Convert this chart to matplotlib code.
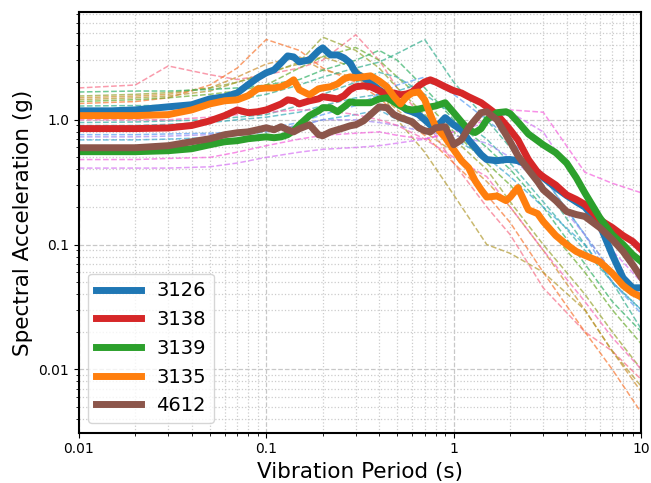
import matplotlib
matplotlib.use("Agg")
import matplotlib.pyplot as plt
import seaborn as sns
from matplotlib.ticker import FixedLocator, FixedFormatter, NullFormatter

# periods for the highlighted records
periods = [0.01, 0.015, 0.02, 0.03, 0.04, 0.05, 0.06, 0.07, 0.08, 0.09,
           0.1, 0.11, 0.12, 0.13, 0.14, 0.15, 0.17, 0.19, 0.2, 0.22,
           0.24, 0.26, 0.28, 0.3, 0.33, 0.36, 0.4, 0.44, 0.48, 0.52,
           0.56, 0.6, 0.65, 0.7, 0.75, 0.8, 0.9, 1.0, 1.1, 1.2,
           1.3, 1.4, 1.5, 1.7, 1.9, 2.0, 2.2, 2.5, 2.8, 3.0,
           3.5, 4.0, 4.5, 5.0, 6.0, 7.0, 8.0, 9.0, 10.0]

sa_3126 = [1.18, 1.18, 1.2, 1.27, 1.32, 1.47, 1.53, 1.64, 1.91, 2.17,
           2.38, 2.51, 2.86, 3.25, 3.19, 2.91, 3.02, 3.57, 3.77, 3.31,
           3.31, 3.13, 2.86, 2.38, 2.17, 1.98, 1.74, 1.585, 1.445, 1.32,
           1.2, 1.16, 1.1, 1.0, 0.91, 0.86, 1.04, 0.91, 0.83, 0.69,
           0.6, 0.525, 0.48, 0.47, 0.48, 0.48, 0.47, 0.43, 0.38, 0.344,
           0.286, 0.247, 0.22, 0.2, 0.145, 0.083, 0.054, 0.045, 0.045]

sa_3138 = [0.85, 0.85, 0.85, 0.86, 0.9, 0.98, 1.08, 1.2, 1.14, 1.16,
           1.2, 1.27, 1.34, 1.445, 1.42, 1.34, 1.42, 1.47, 1.53, 1.5,
           1.47, 1.56, 1.74, 1.84, 1.87, 1.84, 1.71, 1.585, 1.64, 1.585,
           1.61, 1.67, 1.87, 2.01, 2.09, 2.01, 1.84, 1.71, 1.64, 1.53,
           1.445, 1.37, 1.27, 1.1, 0.91, 0.83, 0.69, 0.48, 0.38, 0.35,
           0.3, 0.25, 0.23, 0.21, 0.158, 0.137, 0.118, 0.106, 0.091]

sa_3139 = [0.555, 0.555, 0.555, 0.565, 0.586, 0.631, 0.667, 0.68, 0.705, 0.718,
           0.73, 0.718, 0.73, 0.759, 0.817, 0.91, 1.08, 1.18, 1.25, 1.25,
           1.16, 1.27, 1.39, 1.37, 1.37, 1.37, 1.47, 1.5, 1.39, 1.29,
           1.22, 1.2, 1.22, 1.25, 1.27, 1.29, 1.37, 1.14, 0.96, 0.83,
           0.79, 0.85, 1.0, 1.14, 1.16, 1.12, 0.96, 0.77, 0.68, 0.63,
           0.545, 0.45, 0.344, 0.26, 0.165, 0.12, 0.1, 0.083, 0.073]

sa_3135 = [1.08, 1.08, 1.08, 1.1, 1.2, 1.34, 1.42, 1.445, 1.56, 1.77,
           1.8, 1.8, 1.84, 1.94, 2.09, 1.74, 1.585, 1.77, 1.8, 1.84,
           1.94, 2.13, 2.21, 2.17, 2.21, 2.25, 2.05, 1.84, 1.53, 1.34,
           1.53, 1.64, 1.67, 1.445, 1.1, 0.88, 0.72, 0.575, 0.47, 0.413,
           0.325, 0.275, 0.24, 0.245, 0.225, 0.24, 0.286, 0.19, 0.177, 0.153,
           0.118, 0.1, 0.088, 0.082, 0.073, 0.059, 0.047, 0.041, 0.038]

sa_4612 = [0.597, 0.597, 0.597, 0.62, 0.667, 0.705, 0.759, 0.787, 0.8, 0.832,
           0.863, 0.832, 0.88, 0.832, 0.8, 0.847, 0.912, 0.759, 0.745, 0.8,
           0.832, 0.863, 0.895, 0.912, 0.98, 1.1, 1.27, 1.25, 1.1, 1.04,
           1.0, 0.964, 0.863, 0.817, 0.8, 0.863, 0.88, 0.631, 0.692, 0.863,
           1.0, 1.14, 1.16, 1.0, 0.759, 0.667, 0.515, 0.398, 0.32, 0.275,
           0.225, 0.184, 0.174, 0.168, 0.137, 0.11, 0.088, 0.069, 0.0545]

# background records (thin dashed)
bg_periods = [0.01, 0.02, 0.03, 0.05, 0.07, 0.1, 0.15, 0.2, 0.3, 0.4,
              0.5, 0.7, 1.0, 1.5, 2.0, 3.0, 5.0, 7.0, 10.0]
bg_records = [
    [1.80, 1.9, 2.7, 2.3, 2.1, 2.3, 2.6, 3.0, 4.8, 3.0, 1.8, 1.0, 0.45, 0.2, 0.12, 0.045, 0.02, 0.014, 0.0083],
    [1.35, 1.4, 1.5, 1.9, 2.6, 4.4, 3.6, 2.6, 2.0, 1.5, 1.1, 0.75, 0.45, 0.25, 0.15, 0.06, 0.02, 0.01, 0.0045],
    [1.5, 1.55, 1.6, 1.8, 2.2, 2.8, 3.2, 2.5, 2.2, 1.6, 1.2, 0.8, 0.55, 0.32, 0.2, 0.09, 0.03, 0.014, 0.0066],
    [1.45, 1.5, 1.55, 1.7, 2.0, 2.4, 2.8, 3.2, 2.6, 1.8, 1.0, 0.55, 0.25, 0.1, 0.085, 0.06, 0.03, 0.014, 0.0073],
    [1.55, 1.6, 1.65, 1.8, 2.0, 2.3, 2.9, 4.6, 3.6, 2.6, 1.8, 1.1, 0.7, 0.4, 0.22, 0.1, 0.04, 0.02, 0.01],
    [1.4, 1.45, 1.5, 1.6, 1.7, 1.9, 2.6, 3.2, 3.8, 3.0, 2.2, 1.4, 0.8, 0.45, 0.3, 0.15, 0.06, 0.03, 0.016],
    [1.67, 1.7, 1.7, 1.75, 1.8, 1.9, 2.1, 2.5, 3.0, 3.6, 3.0, 1.8, 1.0, 0.6, 0.4, 0.2, 0.07, 0.035, 0.02],
    [1.29, 1.3, 1.3, 1.35, 1.45, 1.6, 1.9, 2.2, 2.6, 2.9, 3.4, 4.4, 2.0, 1.0, 0.6, 0.3, 0.1, 0.05, 0.021],
    [0.95, 0.96, 0.98, 1.0, 1.05, 1.1, 1.3, 1.6, 2.0, 2.4, 2.2, 1.6, 1.1, 0.7, 0.45, 0.22, 0.09, 0.05, 0.03],
    [0.90, 0.90, 0.92, 0.95, 1.0, 1.05, 1.15, 1.3, 1.5, 1.6, 1.7, 2.0, 1.8, 1.3, 0.8, 0.35, 0.12, 0.06, 0.035],
    [0.69, 0.69, 0.70, 0.72, 0.75, 0.8, 0.9, 1.0, 1.1, 1.2, 1.0, 0.85, 0.7, 0.5, 0.35, 0.2, 0.1, 0.05, 0.03],
    [0.76, 0.76, 0.77, 0.78, 0.8, 0.85, 0.95, 1.1, 1.3, 1.6, 1.9, 2.2, 1.6, 1.0, 0.7, 0.35, 0.12, 0.05, 0.028],
    [0.73, 0.73, 0.74, 0.76, 0.78, 0.82, 0.9, 1.0, 1.0, 0.95, 0.9, 0.8, 0.75, 0.65, 0.5, 0.3, 0.12, 0.06, 0.04],
    [0.41, 0.41, 0.41, 0.42, 0.45, 0.5, 0.55, 0.58, 0.6, 0.62, 0.65, 0.7, 0.8, 0.95, 1.15, 0.8, 0.25, 0.09, 0.05],
    [0.48, 0.48, 0.49, 0.5, 0.55, 0.62, 0.7, 0.75, 0.78, 0.8, 0.75, 0.7, 0.8, 1.0, 1.2, 1.15, 0.38, 0.31, 0.26],
    [1.0, 1.0, 1.0, 1.05, 1.1, 1.15, 1.2, 1.2, 1.1, 1.0, 0.9, 0.7, 0.5, 0.35, 0.2, 0.09, 0.035, 0.018, 0.01],
]

names = ["3126", "3138", "3139", "3135", "4612"]
highlight = [sa_3126, sa_3138, sa_3139, sa_3135, sa_4612]
colors = ["tab:blue", "tab:red", "tab:green", "tab:orange", "tab:brown"]

fig = plt.figure(figsize=(6.51, 4.83), dpi=100)
ax = fig.add_axes([0.121, 0.104, 0.864, 0.871])

bg_colors = sns.color_palette("husl", len(bg_records))
for rec, c in zip(bg_records, bg_colors):
    ax.plot(bg_periods, rec, "--", color=c, alpha=0.7, linewidth=1.1)

for name, sa, c in zip(names, highlight, colors):
    ax.plot(periods, sa, color=c, linewidth=5, label=name)

ax.set_xscale("log")
ax.set_yscale("log")
ax.set_xlim(0.01, 10)
ax.set_ylim(0.0031, 7.3)

ax.xaxis.set_major_locator(FixedLocator([0.01, 0.1, 1, 10]))
ax.xaxis.set_major_formatter(FixedFormatter(["0.01", "0.1", "1", "10"]))
ax.yaxis.set_major_locator(FixedLocator([0.01, 0.1, 1.0]))
ax.yaxis.set_major_formatter(FixedFormatter(["0.01", "0.1", "1.0"]))
ax.xaxis.set_minor_formatter(NullFormatter())
ax.yaxis.set_minor_formatter(NullFormatter())
ax.tick_params(labelsize=10)

ax.grid(which="major", linestyle="--", color="#c8c8c8", linewidth=0.9)
ax.grid(which="minor", linestyle=":", color="#cccccc", linewidth=0.9)

for s in ax.spines.values():
    s.set_linewidth(1.5)

ax.set_xlabel("Vibration Period (s)", fontsize=15.5)
ax.set_ylabel("Spectral Acceleration (g)", fontsize=15.5)
ax.legend(loc="lower left", fontsize=14, handlelength=2.3)

fig.savefig("out.png", dpi=100)
